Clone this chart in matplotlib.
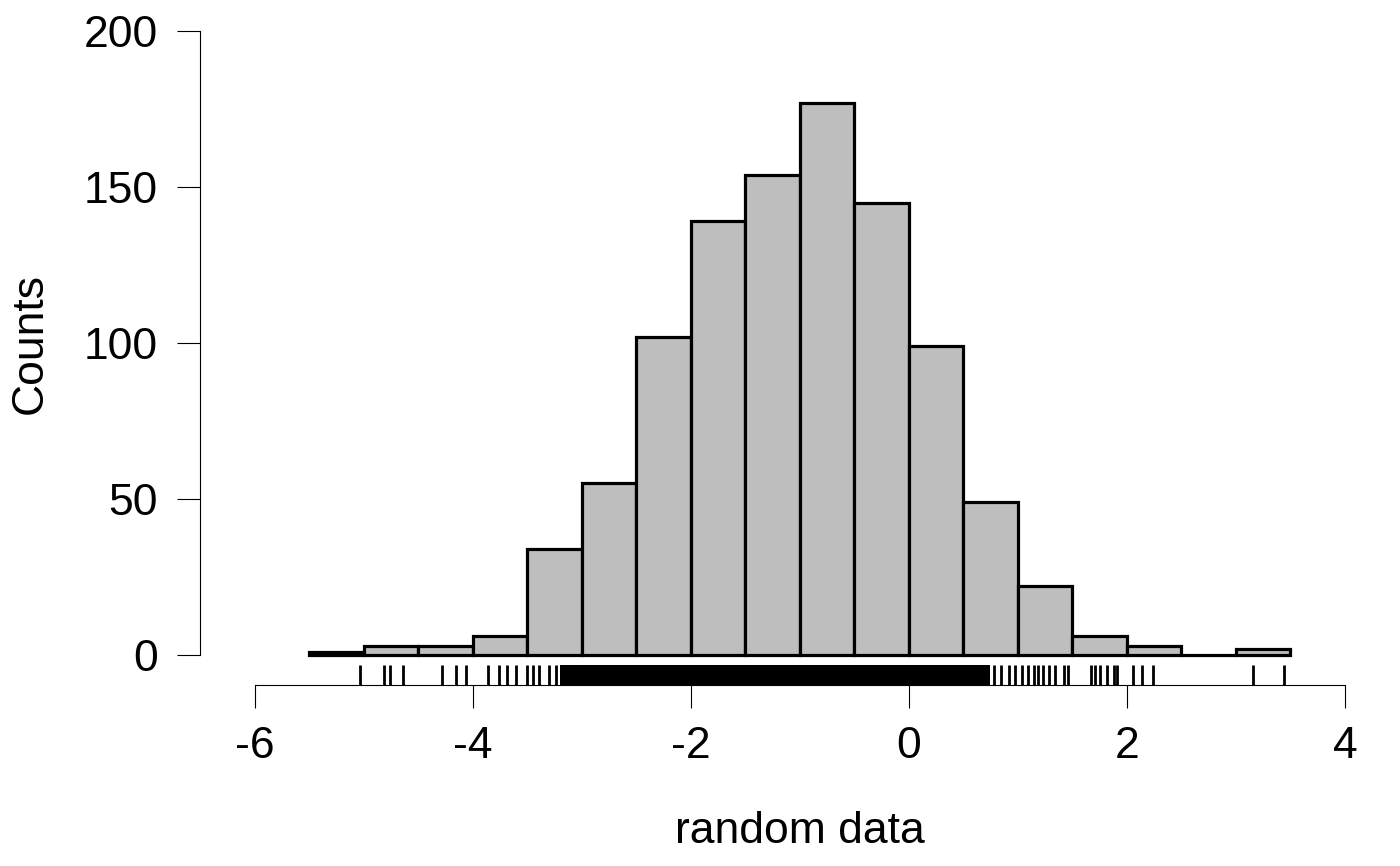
import matplotlib
matplotlib.use('Agg')
import matplotlib.pyplot as plt

plt.rcParams['font.family'] = ['Liberation Sans', 'DejaVu Sans']

# histogram bins (left edges, width 0.5) and counts
bin_edges = [-5.5, -5.0, -4.5, -4.0, -3.5, -3.0, -2.5, -2.0, -1.5, -1.0,
             -0.5, 0.0, 0.5, 1.0, 1.5, 2.0, 2.5, 3.0, 3.5]
counts = [1, 3, 3, 6, 34, 55, 102, 139, 154, 177, 145, 99, 49, 22, 6, 3, 0, 2]

# rug: single ticks that can be told apart in the tails
rug_left = [-5.037, -4.817, -4.761, -4.642, -4.284, -4.156, -4.064,
            -3.858, -3.766, -3.688, -3.610, -3.505, -3.450, -3.399,
            -3.303, -3.234]
rug_right = [0.784, 0.844, 0.922, 0.972, 1.037, 1.096, 1.147, 1.183,
             1.229, 1.280, 1.339, 1.422, 1.459, 1.670, 1.706, 1.752,
             1.814, 1.881, 1.905, 2.058, 2.135, 2.236, 3.153, 3.443]
# where the rug ticks merge into a solid black band
rug_band = (-3.202, 0.743)

x_ticks = [-6, -4, -2, 0, 2, 4]
y_ticks = [0, 50, 100, 150, 200]

fig = plt.figure(figsize=(14, 8.66), dpi=100)
ax = fig.add_axes([200 / 1400, 1 - 685 / 866, 1145 / 1400, (685 - 31) / 866])

widths = [b - a for a, b in zip(bin_edges[:-1], bin_edges[1:])]
ax.bar(bin_edges[:-1], counts, width=widths, align='edge',
       facecolor='#BEBEBE', edgecolor='black', linewidth=2.3, zorder=2)

rug_lo, rug_hi = -9.6, -3.2
ax.vlines(rug_left + rug_right, rug_lo, rug_hi, color='black', linewidth=2.0)
ax.fill_between(list(rug_band), rug_lo, rug_hi, color='black', linewidth=0)

ax.set_xlim(-6 - 55 / 109, 4)
ax.set_ylim(-(685 - 655) / 3.12, 200)

for s in ['top', 'right']:
    ax.spines[s].set_visible(False)
ax.spines['left'].set_bounds(0, 200)
ax.spines['bottom'].set_bounds(-6, 4)
for s in ['left', 'bottom']:
    ax.spines[s].set_linewidth(0.8)

ax.set_xticks(x_ticks)
ax.set_yticks(y_ticks)
ax.set_xticklabels([str(v) for v in x_ticks])
ax.set_yticklabels([str(v) for v in y_ticks])
ax.tick_params(axis='both', labelsize=32, length=16.5, width=0.8, colors='black')
ax.tick_params(axis='y', pad=14)
ax.tick_params(axis='x', pad=13)

fig.text(30 / 1400, 1 - 343 / 866, 'Counts', rotation=90, fontsize=32,
         ha='center', va='center')
fig.text(800 / 1400, 1 - 843 / 866, 'random data', fontsize=32,
         ha='center', va='baseline')

fig.savefig('out.png', dpi=100)
